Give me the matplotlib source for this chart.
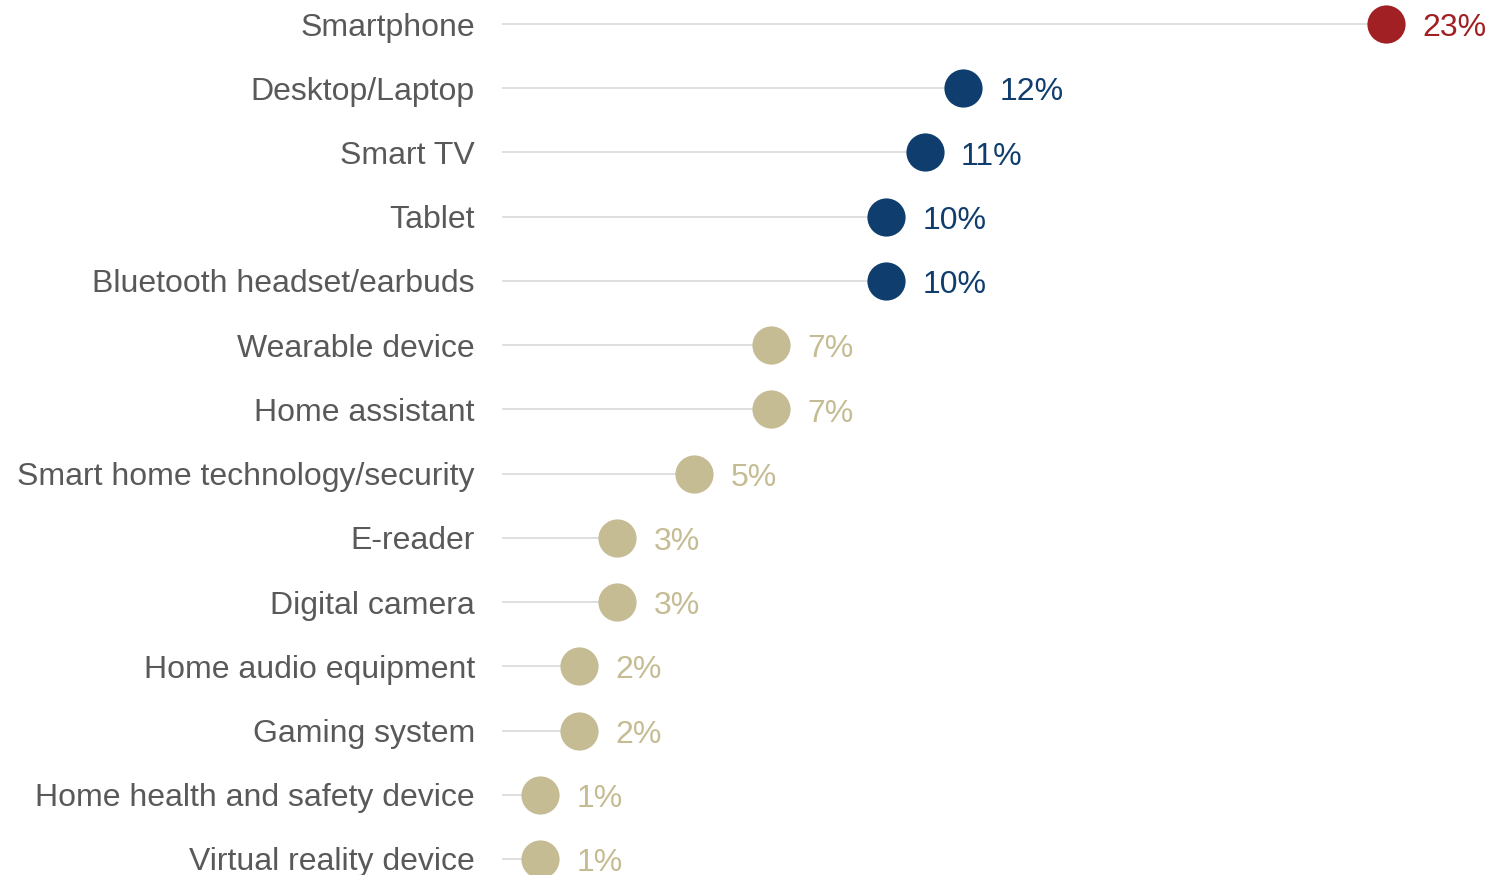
import matplotlib
matplotlib.use("Agg")
import matplotlib.pyplot as plt

plt.rcParams["font.family"] = ["Liberation Sans", "DejaVu Sans"]

categories = ["Smartphone", "Desktop/Laptop", "Smart TV", "Tablet",
              "Bluetooth headset/earbuds", "Wearable device", "Home assistant",
              "Smart home technology/security", "E-reader", "Digital camera",
              "Home audio equipment", "Gaming system",
              "Home health and safety device", "Virtual reality device"]
values = [23, 12, 11, 10, 10, 7, 7, 5, 3, 3, 2, 2, 1, 1]

RED = "#A12024"
NAVY = "#0F3E6E"
TAN = "#C5BC94"

def color_for(v):
    if v == max(values):
        return RED
    if v >= 10:
        return NAVY
    return TAN

W, H = 1511, 875
fig = plt.figure(figsize=(W / 100, H / 100), dpi=100)
fig.patch.set_facecolor("white")
x0 = 502
ax = fig.add_axes([x0 / W, 0, (W - x0) / W, 1])
ax.set_facecolor("none")

px_per_unit = 38.43
ax.set_xlim(0, (W - x0) / px_per_unit)
row = 64.23
ax.set_ylim(13 + (H - 859) / row, -24 / row)

ypos = list(range(len(categories)))
for y, v in zip(ypos, values):
    c = color_for(v)
    ax.plot([0, v], [y, y], color="#D9D9D9", linewidth=1.2, zorder=1,
            solid_capstyle="butt")
    ax.plot(v, y, "o", markersize=27.5, color=c, markeredgewidth=0,
            zorder=3, clip_on=False)
    ax.annotate(f"{v}%", (v, y), xytext=(26, -3), textcoords="offset points",
                ha="left", va="center", fontsize=23, color=c,
                annotation_clip=False)

ax.set_yticks(ypos)
ax.set_yticklabels(categories, fontsize=23, color="#595959")
ax.tick_params(axis="y", length=0, pad=19.5)
ax.set_xticks([])
for s in ax.spines.values():
    s.set_visible(False)

fig.savefig("out.png", dpi=100)
